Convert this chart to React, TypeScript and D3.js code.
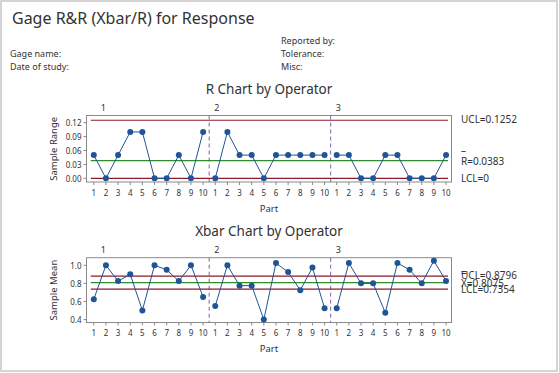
import React from "react";
import * as d3 from "d3";

// chart data
const operators = ["1", "2", "3"];
const parts = ["1", "2", "3", "4", "5", "6", "7", "8", "9", "10"];
const rangeOp1 = [0.05, 0, 0.05, 0.1, 0.1, 0, 0, 0.05, 0, 0.1];
const rangeOp2 = [0, 0.1, 0.05, 0.05, 0, 0.05, 0.05, 0.05, 0.05, 0.05];
const rangeOp3 = [0.05, 0.05, 0, 0, 0.05, 0.05, 0, 0, 0, 0.05];
const meanOp1 = [0.625, 1.0, 0.825, 0.9, 0.5, 1.0, 0.95, 0.825, 1.0, 0.65];
const meanOp2 = [0.55, 1.0, 0.775, 0.775, 0.4, 1.025, 0.925, 0.725, 0.975, 0.525];
const meanOp3 = [0.525, 1.025, 0.8, 0.8, 0.475, 1.025, 0.95, 0.8, 1.05, 0.825];
const rLimits = [0.1252, 0.0383, 0];
const xbarLimits = [0.8796, 0.8075, 0.7354];
const rTicks = [0, 0.03, 0.06, 0.09, 0.12];
const xbarTicks = [0.4, 0.6, 0.8, 1.0];

const FONT = "'Segoe UI', 'Noto Sans', sans-serif";
const TXT = "#333";
const BLUE = "#1f5596";
const RED = "#8c1a2c";
const GREEN = "#2e8b2e";
const PURPLE = "#8064a2";

const x = d3.scaleLinear().domain([-0.6, 29.45]).range([86.5, 451.5]);

type PanelProps = {
  title: string;
  yLabel: string;
  groups: number[][];
  limits: number[];
  ticks: number[];
  fmt: (v: number) => string;
  domain: [number, number];
  top: number;
  bottom: number;
  limitLabels: string[];
  bar: string;
};

function Panel(p: PanelProps) {
  const y = d3.scaleLinear().domain(p.domain).range([p.bottom, p.top]);
  const left = x.range()[0], right = x.range()[1];
  const n = parts.length;
  const line = d3.line<number>().x((d, i) => x(i)).y(d => y(d));
  const midY = (p.top + p.bottom) / 2;
  return (
    <g fontFamily={FONT} fill={TXT}>
      <text x={269} y={p.top - 22} fontSize={13.5} textAnchor="middle">{p.title}</text>
      <rect x={left} y={p.top} width={right - left} height={p.bottom - p.top} fill="none" stroke="#8a8a8a" strokeWidth={1} />
      {operators.map((op, g) => (
        <text key={op} x={g === 0 ? x(0) + 7 : x(g * n - 0.5) + 5} y={p.top - 5} fontSize={9}>{op}</text>
      ))}
      {[1, 2].map(g => (
        <line key={g} x1={x(g * n - 0.5)} x2={x(g * n - 0.5)} y1={p.top} y2={p.bottom}
          stroke={PURPLE} strokeDasharray="4,3" strokeWidth={1} />
      ))}
      {p.limits.map((v, i) => (
        <line key={i} x1={x(0) - 3} x2={x(29) + 2} y1={y(v)} y2={y(v)}
          stroke={i === 1 ? GREEN : RED} strokeWidth={1.2} />
      ))}
      {p.ticks.map(t => (
        <g key={t}>
          <line x1={left - 3} x2={left} y1={y(t)} y2={y(t)} stroke="#8a8a8a" />
          <text x={left - 5} y={y(t)} fontSize={8} textAnchor="end" dominantBaseline="central">{p.fmt(t)}</text>
        </g>
      ))}
      {p.groups.map((vals, g) => vals.map((v, j) => (
        <g key={g + "-" + j}>
          <line x1={x(g * n + j)} x2={x(g * n + j)} y1={p.bottom} y2={p.bottom + 3} stroke="#8a8a8a" />
          <text x={x(g * n + j)} y={p.bottom + 10} fontSize={8} textAnchor="middle" dominantBaseline="central">{parts[j]}</text>
        </g>
      )))}
      {p.groups.map((vals, g) => (
        <path key={g} d={line.x((d, i) => x(g * n + i))(vals) || ""} fill="none" stroke={BLUE} strokeWidth={1} />
      ))}
      {p.groups.map((vals, g) => vals.map((v, j) => (
        <circle key={g + "-" + j} cx={x(g * n + j)} cy={y(v)} r={3} fill={BLUE} />
      )))}
      {p.limitLabels.map((s, i) => (
        <text key={s} x={461} y={y(p.limits[i]) - (i === 0 ? 1.5 : 0)} fontSize={10} dominantBaseline="central">{s}</text>
      ))}
      <text x={461} y={y(p.limits[1]) - 11} fontSize={10} dominantBaseline="central">{p.bar}</text>
      <text x={269} y={p.bottom + 26} fontSize={9.5} textAnchor="middle" dominantBaseline="central">Part</text>
      <text transform={`translate(53,${midY}) rotate(-90)`} fontSize={9.5} textAnchor="middle" dominantBaseline="central">{p.yLabel}</text>
    </g>
  );
}

export default function App() {
  return (
    <svg width={559} height={373} style={{ display: "block", position: "absolute", left: 0, top: 0 }}>
      <rect x={0} y={0} width={559} height={373} fill="#fff" />
      <rect x={1} y={1} width={556} height={370} fill="none" stroke="#d4d4d4" strokeWidth={2} />
      <g fontFamily={FONT} fill={TXT}>
        <text x={12} y={24} fontSize={16}>Gage R&amp;R (Xbar/R) for Response</text>
        <text x={10} y={53} fontSize={9} dominantBaseline="central">Gage name:</text>
        <text x={10} y={66} fontSize={9} dominantBaseline="central">Date of study:</text>
        <text x={281} y={40} fontSize={9} dominantBaseline="central">Reported by:</text>
        <text x={281} y={53} fontSize={9} dominantBaseline="central">Tolerance:</text>
        <text x={281} y={66} fontSize={9} dominantBaseline="central">Misc:</text>
      </g>
      <Panel title="R Chart by Operator" yLabel="Sample Range" groups={[rangeOp1, rangeOp2, rangeOp3]} limits={rLimits}
        ticks={rTicks} fmt={d3.format(".2f")} domain={[-0.008, 0.1355]} top={115.5} bottom={182}
        limitLabels={["UCL=0.1252", "R=0.0383", "LCL=0"]} bar="–" />
      <Panel title="Xbar Chart by Operator" yLabel="Sample Mean" groups={[meanOp1, meanOp2, meanOp3]} limits={xbarLimits}
        ticks={xbarTicks} fmt={d3.format(".1f")} domain={[0.367, 1.084]} top={257.7} bottom={322.5}
        limitLabels={["UCL=0.8796", "X=0.8075", "LCL=0.7354"]} bar="=" />
    </svg>
  );
}
